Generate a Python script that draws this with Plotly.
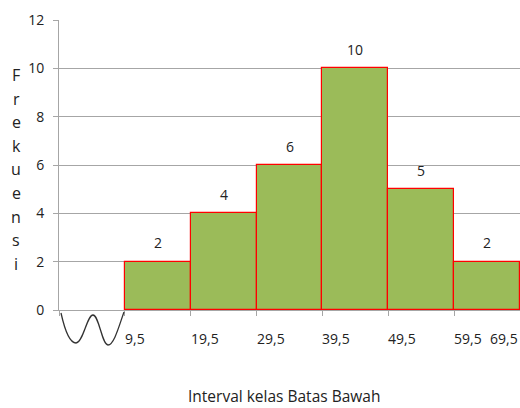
import plotly.graph_objects as go

# Data
lower_bounds = [9.5, 19.5, 29.5, 39.5, 49.5, 59.5]
class_width = 10
frequencies = [2, 4, 6, 10, 5, 2]
x_tick_labels = ["9,5", "19,5", "29,5", "39,5", "49,5", "59,5", "69,5"]
x_tick_values = [9.5, 19.5, 29.5, 39.5, 49.5, 59.5, 69.5]
y_title = "Frekuensi"
x_title = "Interval kelas Batas Bawah"

FONT = "'Open Sans', 'Noto Sans', sans-serif"
TXT = "#222222"
GRID = "#a6a6a6"

W, H = 520, 408
L, R, T, B = 59, 0, 20, 408 - 310
PW, PH = W - L - R, H - T - B


def px2paper(px, py):
    """window pixel -> paper coords"""
    return (px - L) / PW, (H - B - py) / PH


centers = [lb + class_width / 2 for lb in lower_bounds]

fig = go.Figure()
fig.add_trace(go.Bar(
    x=centers, y=frequencies, width=[class_width] * len(centers),
    marker=dict(color="#9BBB59", line=dict(color="#FF0000", width=1.2)),
    hoverinfo="x+y",
))

annotations = []
# value labels above bars
for c, f in zip(centers, frequencies):
    annotations.append(dict(x=c, y=f, xref="x", yref="y", text=str(f),
                            showarrow=False, yanchor="middle", yshift=19,
                            font=dict(family=FONT, size=14, color=TXT)))
# x tick labels (left-aligned at tick, last one right-aligned)
for i, (v, t) in enumerate(zip(x_tick_values, x_tick_labels)):
    last = i == len(x_tick_values) - 1
    annotations.append(dict(x=v, y=0, xref="x", yref="y", text=t,
                            showarrow=False, xanchor="right" if last else "left",
                            yanchor="middle", yshift=-28, xshift=0 if last else -2,
                            font=dict(family=FONT, size=14, color=TXT)))
# vertical stacked y title
for i, ch in enumerate(y_title):
    ax, ay = px2paper(16, 75 + i * 23.6)
    annotations.append(dict(x=ax, y=ay, xref="paper", yref="paper",
                            text=ch, showarrow=False, xanchor="center", yanchor="middle",
                            font=dict(family=FONT, size=16, color=TXT)))
# x title
tx, ty = px2paper(284, 396)
annotations.append(dict(x=tx, y=ty, xref="paper", yref="paper",
                        text=x_title, showarrow=False, xanchor="center", yanchor="middle",
                        font=dict(family=FONT, size=15.5, color=TXT)))

# axis-break squiggle (decoration)
def P(px, py):
    a, b = px2paper(px, py)
    return f"{a:.5f},{b:.5f}"

path = (f"M {P(61,313)} C {P(65,331)} {P(70,343)} {P(76,343)} "
        f"C {P(83,343)} {P(87,315)} {P(93,315)} "
        f"C {P(99,315)} {P(102,345)} {P(108,345)} "
        f"C {P(114,345)} {P(119,326)} {P(124,312)}")

fig.update_layout(
    width=W, height=H,
    margin=dict(l=L, r=R, t=T, b=B),
    paper_bgcolor="white", plot_bgcolor="white",
    showlegend=False,
    bargap=0,
    annotations=annotations,
    shapes=[dict(type="path", path=path, xref="paper", yref="paper",
                 line=dict(color="#333333", width=1.3))],
    xaxis=dict(range=[-0.5, 69.5], tickvals=[-0.5] + x_tick_values[:-1],
               ticktext=[""] * len(x_tick_values), ticks="outside", ticklen=5,
               tickcolor=GRID, showgrid=False, showline=True, linecolor=GRID,
               linewidth=1, zeroline=False, fixedrange=True),
    yaxis=dict(range=[0, 12], dtick=2, ticks="outside", ticklen=5, tickcolor=GRID,
               showgrid=True, gridcolor=GRID, gridwidth=1, showline=True,
               linecolor=GRID, linewidth=1, zeroline=False,
               tickfont=dict(family=FONT, size=14, color=TXT),
               ticklabelstandoff=6, fixedrange=True),
)

fig.write_html(
    "out.html",
    config={"displayModeBar": False},
    post_script="document.body.style.margin='0';document.body.style.overflow='hidden';",
)
